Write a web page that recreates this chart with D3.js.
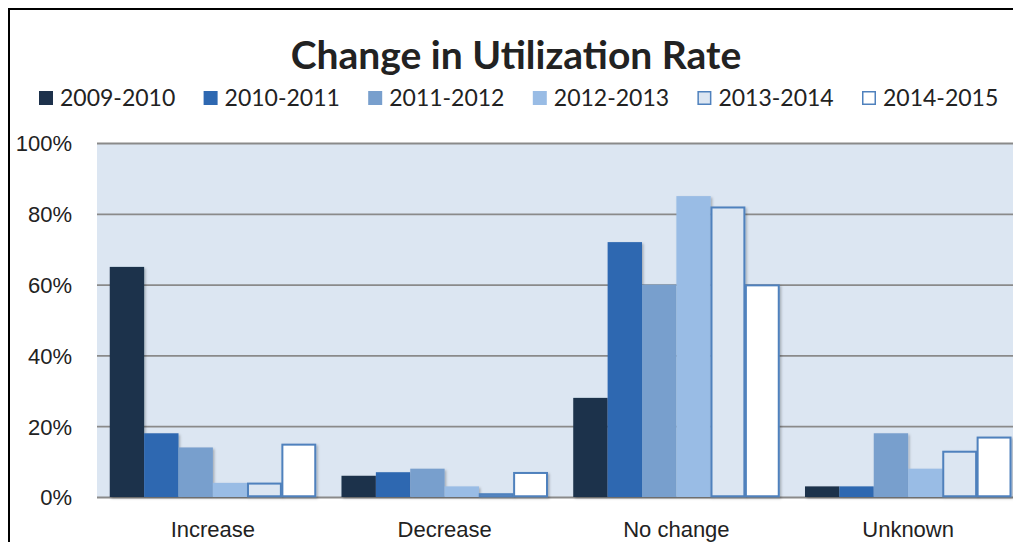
<!DOCTYPE html>
<html>
<head>
<meta charset="utf-8">
<script src="https://cdn.jsdelivr.net/npm/d3@7"></script>
<style>
  body { margin: 0; background: #fff; }
  svg { display: block; font-family: Lato, "Open Sans", sans-serif; }
</style>
</head>
<body>
<div id="chart"></div>
<script>
// chart data
const categories = ["Increase", "Decrease", "No change", "Unknown"];
const seriesNames = ["2009-2010", "2010-2011", "2011-2012", "2012-2013", "2013-2014", "2014-2015"];
const v2009 = [0.65, 0.06, 0.28, 0.03];
const v2010 = [0.18, 0.07, 0.72, 0.03];
const v2011 = [0.14, 0.08, 0.60, 0.18];
const v2012 = [0.04, 0.03, 0.85, 0.08];
const v2013 = [0.04, 0.01, 0.82, 0.13];
const v2014 = [0.15, 0.07, 0.60, 0.17];
const yTicks = [0, 0.2, 0.4, 0.6, 0.8, 1.0];

const seriesValues = [v2009, v2010, v2011, v2012, v2013, v2014];
const fills = ["#1d314b", "#2e68b1", "#789fcd", "#99bce5", "#dce6f2", "#ffffff"];
const strokes = [null, null, null, null, "#4f81bd", "#4f81bd"];

const width = 1013, height = 542;
const plot = { left: 97, right: 1024, top: 143, bottom: 497 };

const svg = d3.select("#chart").append("svg")
  .attr("width", width)
  .attr("height", height);

// soft shadow under bars
const defs = svg.append("defs");
const shadow = defs.append("filter").attr("id", "shadow")
  .attr("x", "-20%").attr("y", "-20%").attr("width", "150%").attr("height", "150%");
shadow.append("feDropShadow")
  .attr("dx", 1.5).attr("dy", 1.5).attr("stdDeviation", 1.2)
  .attr("flood-color", "#000").attr("flood-opacity", 0.25);

// outer frame
svg.append("rect")
  .attr("x", 9).attr("y", 9)
  .attr("width", width + 20).attr("height", height + 20)
  .attr("fill", "#fff")
  .attr("stroke", "#000")
  .attr("stroke-width", 2);

//scales
const x = d3.scaleBand()
  .domain(categories)
  .range([plot.left, plot.right])
  .paddingInner(0.11)
  .paddingOuter(0.055);

const xs = d3.scaleBand()
  .domain(seriesNames)
  .range([0, x.bandwidth()]);

const y = d3.scaleLinear()
  .domain([0, 1])
  .range([plot.bottom, plot.top]);

// plot background
svg.append("rect")
  .attr("x", plot.left).attr("y", plot.top)
  .attr("width", plot.right - plot.left)
  .attr("height", plot.bottom - plot.top)
  .attr("fill", "#dce6f2");

// gridlines + y labels
const yAxis = svg.append("g")
  .attr("transform", `translate(${plot.left},0)`)
  .call(d3.axisLeft(y).tickValues(yTicks)
    .tickSize(-(plot.right - plot.left))
    .tickPadding(25)
    .tickFormat(d3.format(".0%")));
yAxis.select(".domain").remove();
yAxis.selectAll(".tick line")
  .attr("stroke", "#8a8a8a")
  .attr("stroke-width", 1.8);
yAxis.selectAll(".tick text")
  .attr("fill", "#222")
  .style("font-size", "22px")
  .attr("dy", "0.36em");

// bars
const groups = svg.append("g").selectAll("g")
  .data(seriesNames)
  .join("g")
  .attr("filter", "url(#shadow)");

groups.each(function (name, si) {
  d3.select(this).selectAll("rect")
    .data(categories.map((c, ci) => ({ cat: c, value: seriesValues[si][ci] })))
    .join("rect")
    .attr("x", d => x(d.cat) + xs(name) + (strokes[si] ? 0.75 : 0))
    .attr("y", d => y(d.value) + (strokes[si] ? 0.75 : 0))
    .attr("width", xs.bandwidth() - (strokes[si] ? 1.5 : 0))
    .attr("height", d => Math.max(0, y(0) - y(d.value) - (strokes[si] ? 1.5 : 0)))
    .attr("fill", fills[si])
    .attr("stroke", strokes[si] || "none")
    .attr("stroke-width", 2);
});

// x axis
const xAxis = svg.append("g")
  .attr("transform", `translate(0,${plot.bottom})`)
  .call(d3.axisBottom(x).tickSize(0).tickPadding(24));
xAxis.select(".domain").remove();
xAxis.selectAll(".tick text")
  .attr("fill", "#222")
  .style("font-size", "22px");

// title
svg.append("text")
  .attr("x", 516).attr("y", 69)
  .attr("text-anchor", "middle")
  .attr("fill", "#222")
  .style("font-size", "39px")
  .style("font-weight", "bold")
  .text("Change in Utilization Rate");

// legend
const legend = svg.append("g").selectAll("g")
  .data(seriesNames)
  .join("g")
  .attr("transform", (d, i) => `translate(${39 + i * 164.6},0)`);

legend.append("rect")
  .attr("x", (d, i) => strokes[i] ? 0.75 : 0)
  .attr("y", (d, i) => 91 + (strokes[i] ? 0.75 : 0))
  .attr("width", (d, i) => 14 - (strokes[i] ? 1.5 : 0))
  .attr("height", (d, i) => 14 - (strokes[i] ? 1.5 : 0))
  .attr("fill", (d, i) => fills[i])
  .attr("stroke", (d, i) => strokes[i] || "none")
  .attr("stroke-width", 1.5);

legend.append("text")
  .attr("x", 21).attr("y", 106)
  .attr("fill", "#222")
  .style("font-size", "23px")
  .text(d => d);
</script>
</body>
</html>
